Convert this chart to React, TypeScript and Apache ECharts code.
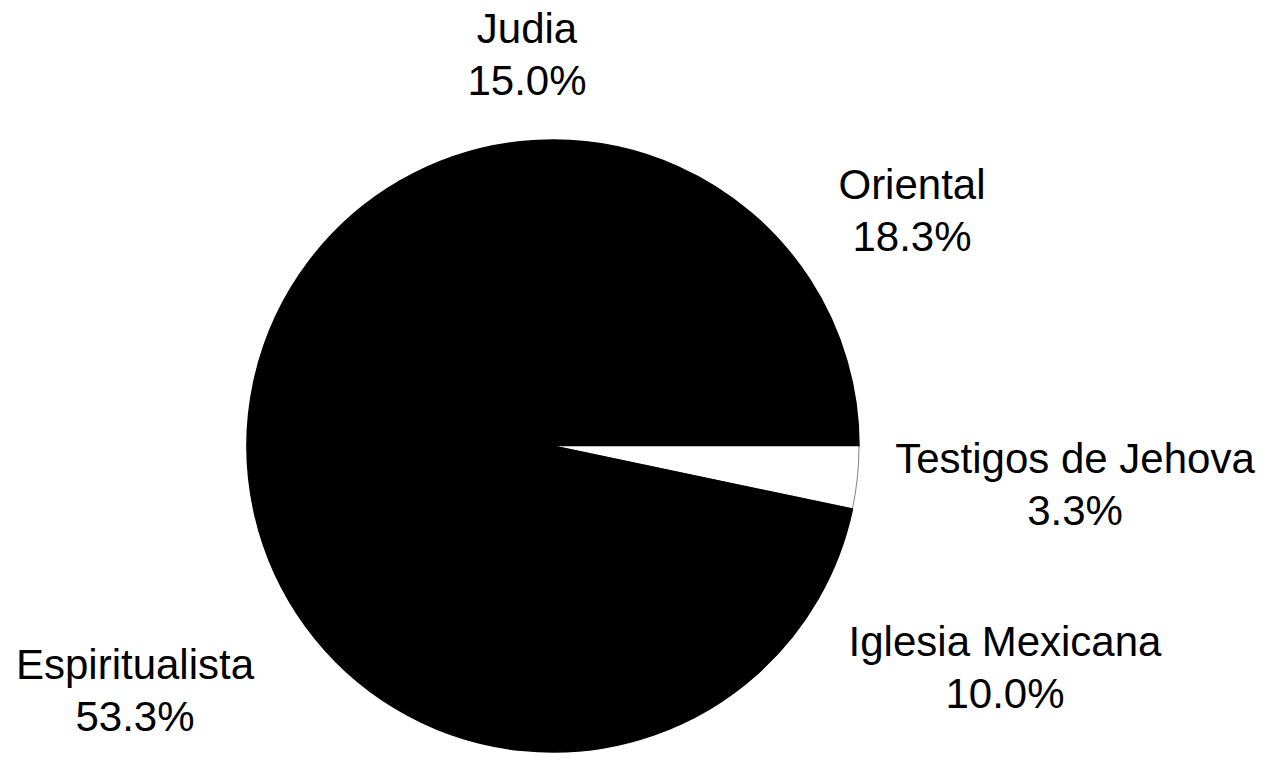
import React, { useEffect, useRef } from "react";
import * as echarts from "echarts";

const categories = ["Judia", "Oriental", "Testigos de Jehova", "Iglesia Mexicana", "Espiritualista"];
const values = [15.0, 18.3, 3.3, 10.0, 53.3];
const sliceColors = ["#000000", "#000000", "#ffffff", "#000000", "#000000"];
const labelCenters: [number, number][] = [
  [527, 54],
  [912, 210],
  [1075, 484],
  [1005, 667],
  [135, 690],
];

export default function App() {
  const ref = useRef<HTMLDivElement>(null);
  useEffect(() => {
    if (!ref.current) return;
    const chart = echarts.init(ref.current, null, { renderer: "svg" });
    chart.setOption({
      animation: false,
      backgroundColor: "#ffffff",
      series: [
        {
          type: "pie",
          center: [553, 446],
          radius: [0, 306],
          startAngle: 120,
          clockwise: true,
          silent: true,
          data: categories.map((c, i) => ({
            name: c,
            value: values[i],
            itemStyle: {
              color: sliceColors[i],
              borderColor: "#000000",
              borderWidth: i === 2 ? 0.5 : 1.5,
            },
          })),
          label: {
            show: true,
            position: "outside",
            color: "#000000",
            fontFamily: "Liberation Sans, Arial, sans-serif",
            fontSize: 42,
            lineHeight: 52,
            align: "center",
            overflow: "none",
            width: 400,
            formatter: (p: any) => `${p.name}\n${values[p.dataIndex].toFixed(1)}%`,
          },
          labelLine: { show: false },
          labelLayout: (params: any) => {
            const c = labelCenters[params.dataIndex];
            return { x: c[0], y: c[1], align: "center", verticalAlign: "middle" };
          },
        },
      ],
    });
    return () => chart.dispose();
  }, []);
  return (
    <div
      ref={ref}
      style={{ position: "absolute", left: 0, top: 0, width: 1269, height: 759 }}
    />
  );
}
